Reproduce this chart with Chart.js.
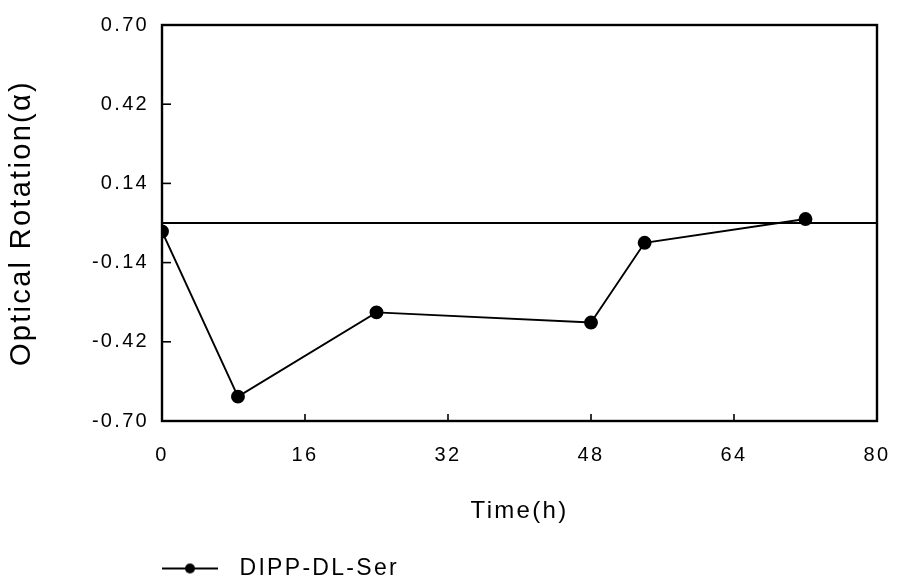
<!DOCTYPE html>
<html><head><meta charset="utf-8">
<script src="https://cdn.jsdelivr.net/npm/chart.js@4"></script>
<style>html,body{margin:0;padding:0;background:#fff}#wrap{width:897px;height:583px}</style>
</head><body><div id="wrap"><canvas id="c" width="897" height="583"></canvas></div>
<script>
const timeHours = [0, 8.5, 24, 48, 54, 72];
const rotation = [-0.03, -0.614, -0.316, -0.352, -0.07, 0.014];
const xTicks = [0, 16, 32, 48, 64, 80];
const yTicks = [-0.70, -0.42, -0.14, 0.14, 0.42, 0.70];
const seriesName = 'DIPP-DL-Ser';
const xTitle = 'Time(h)';
const yTitle = 'Optical Rotation(α)';
const referenceLevel = 0;

const FONT = '"Liberation Sans", Arial, sans-serif';

// legend marker: line with a dot
const mk = document.createElement('canvas');
mk.width = 66; mk.height = 14;
(function(){
  const g = mk.getContext('2d');
  g.strokeStyle = '#000'; g.lineWidth = 2.2;
  g.beginPath(); g.moveTo(0, 7); g.lineTo(56, 7); g.stroke();
  g.fillStyle = '#000';
  g.beginPath(); g.arc(28, 7, 5, 0, Math.PI * 2); g.fill();
})();

const spacing = {
  id: 'spacing',
  beforeUpdate(chart) { chart.ctx.letterSpacing = '2.3px'; },
  beforeDraw(chart) { chart.ctx.letterSpacing = '2.3px'; }
};

const frame = {
  id: 'frame',
  afterLayout(chart) {
    const lg = chart.legend;
    const shiftY = 7;
    lg.left = chart.chartArea.left - 10;
    lg.top += shiftY; lg.bottom += shiftY;
  },
  afterDatasetsDraw(chart) {
    const {ctx, chartArea: a, scales: {x, y}} = chart;
    ctx.save();
    ctx.strokeStyle = '#000';
    // reference line
    const y0 = y.getPixelForValue(referenceLevel);
    ctx.lineWidth = 1.8;
    ctx.beginPath(); ctx.moveTo(a.left, y0); ctx.lineTo(a.right, y0); ctx.stroke();
    // box
    ctx.lineWidth = 2.4;
    ctx.strokeRect(a.left, a.top, a.right - a.left, a.bottom - a.top);
    // inward ticks
    ctx.lineWidth = 1.6;
    y.ticks.forEach(t => {
      const py = y.getPixelForValue(t.value);
      ctx.beginPath(); ctx.moveTo(a.left, py); ctx.lineTo(a.left + 9, py); ctx.stroke();
    });
    x.ticks.forEach(t => {
      const px = x.getPixelForValue(t.value);
      ctx.beginPath(); ctx.moveTo(px, a.bottom); ctx.lineTo(px, a.bottom - 7); ctx.stroke();
    });
    ctx.restore();
  }
};

new Chart(document.getElementById('c'), {
  type: 'scatter',
  data: {
    datasets: [{
      label: seriesName,
      data: timeHours.map((t, i) => ({x: t, y: rotation[i]})),
      showLine: true,
      borderColor: '#000',
      backgroundColor: '#000',
      borderWidth: 1.9,
      pointRadius: 6,
      pointHoverRadius: 6,
      pointBackgroundColor: '#000',
      pointBorderColor: '#000',
      tension: 0
    }]
  },
  options: {
    responsive: false,
    animation: false,
    devicePixelRatio: 1,
    layout: {padding: {top: 25, right: 20, left: 0, bottom: 0}},
    plugins: {
      legend: {
        position: 'bottom',
        align: 'start',
        labels: {
          usePointStyle: true,
          pointStyle: mk,
          pointStyleWidth: 66,
          color: '#000',
          padding: 10,
          font: {family: FONT, size: 23}
        }
      },
      tooltip: {enabled: false}
    },
    scales: {
      x: {
        type: 'linear',
        min: 0, max: 80,
        afterBuildTicks: s => { s.ticks = xTicks.map(v => ({value: v})); },
        afterFit: s => { s.height = 119; s.paddingLeft = 0; s.paddingRight = 0; },
        grid: {display: false, drawTicks: false},
        border: {display: false},
        ticks: {color: '#000', padding: 22, maxRotation: 0, font: {family: FONT, size: 20}, callback: v => String(v)},
        title: {display: true, text: xTitle, color: '#000', font: {family: FONT, size: 24}, padding: {top: 0, bottom: 14}}
      },
      y: {
        type: 'linear',
        min: -0.70, max: 0.70,
        afterBuildTicks: s => { s.ticks = yTicks.map(v => ({value: v})); },
        afterFit: s => { s.width = 162; s.paddingTop = 0; s.paddingBottom = 0; },
        grid: {display: false, drawTicks: false},
        border: {display: false},
        ticks: {color: '#000', padding: 13, font: {family: FONT, size: 20}, callback: v => Number(v).toFixed(2)},
        title: {display: true, text: yTitle, color: '#000', font: {family: FONT, size: 29}, padding: {top: 5, bottom: 0}}
      }
    }
  },
  plugins: [spacing, frame]
});
</script>
</body></html>
